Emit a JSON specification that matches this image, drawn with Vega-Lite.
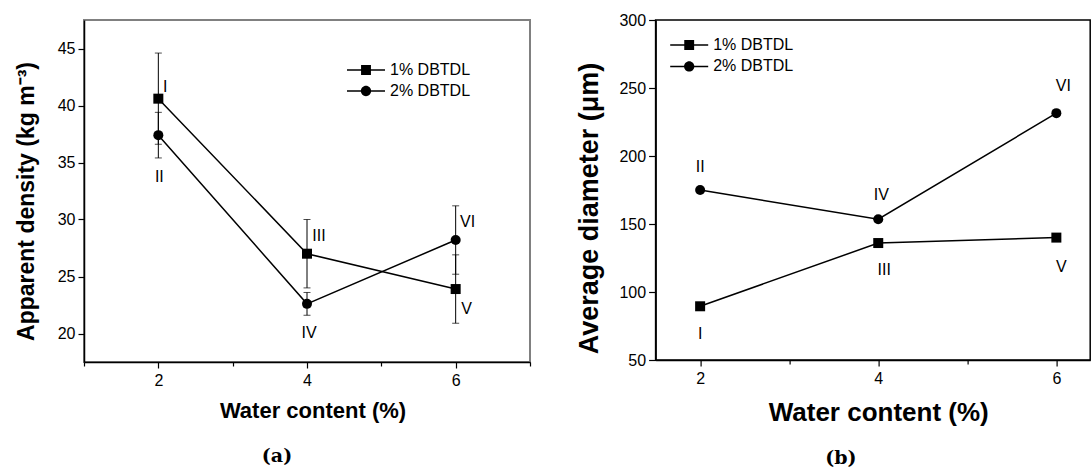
{
  "$schema": "https://vega.github.io/schema/vega-lite/v6.json",
  "padding": {"left": 14, "top": 11, "right": 0, "bottom": 0},
  "background": "white",
  "spacing": 125.6,
  "bounds": "flush",
  "resolve": {"scale": {"color": "independent", "opacity": "independent"}, "legend": {"color": "independent", "opacity": "independent"}},
  "config": {
    "font": "Liberation Sans",
    "axis": {
      "grid": false,
      "domainColor": "black",
      "domainWidth": 1.5,
      "tickColor": "black",
      "tickWidth": 1.2,
      "labelColor": "black",
      "titleColor": "black",
      "labelFont": "Liberation Sans",
      "titleFont": "Liberation Sans",
      "labelFontSize": 16,
      "labelFlush": false,
      "labelOverlap": false,
      "titleFontWeight": "bold",
      "titleBaseline": "middle"
    },
    "legend": {
      "labelFont": "Liberation Sans",
      "labelFontSize": 16,
      "labelColor": "black",
      "padding": 0,
      "labelOffset": 5,
      "rowPadding": 0,
      "symbolSize": 1444,
      "symbolFillColor": "black",
      "symbolStrokeWidth": 0,
      "symbolOpacity": 1
    },
    "title": {"font": "DejaVu Serif", "fontWeight": "bold", "fontSize": 19, "color": "black"}
  },
  "hconcat": [
    {
      "width": 446,
      "height": 342,
      "view": {"stroke": "#808080", "strokeWidth": 2},
      "title": {"text": "(a)", "orient": "bottom", "frame": "group", "anchor": "middle", "dx": -30, "offset": 26},
      "data": {"values": [
        {"w": 2, "s": "1% DBTDL", "v": 40.6, "lo": 36.6, "hi": 44.6, "lab": "I"},
        {"w": 4, "s": "1% DBTDL", "v": 27.0, "lo": 24.0, "hi": 30.0, "lab": "III"},
        {"w": 6, "s": "1% DBTDL", "v": 23.9, "lo": 20.9, "hi": 26.9, "lab": "V"},
        {"w": 2, "s": "2% DBTDL", "v": 37.4, "lo": 35.4, "hi": 39.4, "lab": "II"},
        {"w": 4, "s": "2% DBTDL", "v": 22.6, "lo": 21.6, "hi": 23.6, "lab": "IV"},
        {"w": 6, "s": "2% DBTDL", "v": 28.2, "lo": 25.2, "hi": 31.2, "lab": "VI"}
      ]},
      "layer": [
        {
          "mark": {"type": "rule", "color": "black", "strokeWidth": 1},
          "encoding": {
            "x": {"field": "w", "type": "quantitative", "scale": {"domain": [1, 7], "nice": false, "zero": false},
              "axis": {"title": "Water content (%)", "values": [1, 2, 3, 4, 5, 6, 7], "format": "d",
                "labelExpr": "datum.value % 2 === 0 ? datum.label : ''",
                "tickSize": {"condition": {"test": "datum.value % 2 === 0", "value": 6}, "value": 4},
                "labelPadding": 4, "titleFontSize": 22, "titleX": 228.5, "titleY": 48}},
            "y": {"field": "lo", "type": "quantitative", "scale": {"domain": [17.5, 47.5], "nice": false, "zero": false},
              "axis": {"title": "Apparent density (kg m⁻³)", "values": [20, 22.5, 25, 27.5, 30, 32.5, 35, 37.5, 40, 42.5, 45],
                "labelExpr": "datum.value % 5 === 0 ? datum.label : ''",
                "tickSize": {"condition": {"test": "datum.value % 5 === 0", "value": 6}, "value": 4},
                "labelPadding": 3, "titleFontSize": 23, "titleX": -57.5, "titleY": 181}},
            "y2": {"field": "hi"}
          }
        },
        {
          "mark": {"type": "tick", "orient": "horizontal", "size": 7, "thickness": 1, "color": "black"},
          "encoding": {
            "x": {"field": "w", "type": "quantitative"},
            "y": {"field": "lo", "type": "quantitative"}
          }
        },
        {
          "mark": {"type": "tick", "orient": "horizontal", "size": 7, "thickness": 1, "color": "black"},
          "encoding": {
            "x": {"field": "w", "type": "quantitative"},
            "y": {"field": "hi", "type": "quantitative"}
          }
        },
        {
          "mark": {"type": "line", "color": "black", "strokeWidth": 1.5},
          "encoding": {
            "x": {"field": "w", "type": "quantitative"},
            "y": {"field": "v", "type": "quantitative"},
            "detail": {"field": "s"}
          }
        },
        {
          "transform": [{"filter": "datum.s === '1% DBTDL'"}],
          "mark": {"type": "point", "shape": "square", "filled": true, "size": 100, "opacity": 1},
          "encoding": {
            "x": {"field": "w", "type": "quantitative"},
            "y": {"field": "v", "type": "quantitative"},
            "color": {"field": "s", "type": "nominal",
              "scale": {"domain": ["1% DBTDL"], "range": ["black"]},
              "legend": {"title": null, "orient": "none", "legendX": 263, "legendY": 31,
                "symbolType": "M-1,-0.04H1V0.04H-1ZM-0.26,-0.26H0.26V0.26H-0.26Z"}}
          }
        },
        {
          "transform": [{"filter": "datum.s === '2% DBTDL'"}],
          "mark": {"type": "point", "shape": "circle", "filled": true, "size": 100, "color": "black"},
          "encoding": {
            "x": {"field": "w", "type": "quantitative"},
            "y": {"field": "v", "type": "quantitative"},
            "opacity": {"field": "s", "type": "nominal",
              "scale": {"type": "ordinal", "domain": ["2% DBTDL"], "range": [1]},
              "legend": {"title": null, "orient": "none", "legendX": 263, "legendY": 52,
                "symbolType": "M-1,-0.04H1V0.04H-1ZM0.27,0A0.27,0.27,0,1,1,-0.27,0A0.27,0.27,0,1,1,0.27,0Z"}}
          }
        },
        {
          "transform": [{"filter": "datum.lab === 'I'"}],
          "mark": {"type": "text", "fontSize": 16, "color": "black", "dx": 7, "dy": -12},
          "encoding": {"x": {"field": "w", "type": "quantitative"}, "y": {"field": "v", "type": "quantitative"}, "text": {"field": "lab"}}
        },
        {
          "transform": [{"filter": "datum.lab === 'II'"}],
          "mark": {"type": "text", "fontSize": 16, "color": "black", "dx": 1, "dy": 42},
          "encoding": {"x": {"field": "w", "type": "quantitative"}, "y": {"field": "v", "type": "quantitative"}, "text": {"field": "lab"}}
        },
        {
          "transform": [{"filter": "datum.lab === 'III' || datum.lab === 'VI'"}],
          "mark": {"type": "text", "fontSize": 16, "color": "black", "dx": 12, "dy": -18},
          "encoding": {"x": {"field": "w", "type": "quantitative"}, "y": {"field": "v", "type": "quantitative"}, "text": {"field": "lab"}}
        },
        {
          "transform": [{"filter": "datum.lab === 'IV'"}],
          "mark": {"type": "text", "fontSize": 16, "color": "black", "dx": 2, "dy": 29},
          "encoding": {"x": {"field": "w", "type": "quantitative"}, "y": {"field": "v", "type": "quantitative"}, "text": {"field": "lab"}}
        },
        {
          "transform": [{"filter": "datum.lab === 'V'"}],
          "mark": {"type": "text", "fontSize": 16, "color": "black", "dx": 11, "dy": 20},
          "encoding": {"x": {"field": "w", "type": "quantitative"}, "y": {"field": "v", "type": "quantitative"}, "text": {"field": "lab"}}
        }
      ]
    },
    {
      "width": 434.6,
      "height": 340,
      "view": {"stroke": "black", "strokeWidth": 1.5},
      "title": {"text": "(b)", "orient": "bottom", "frame": "group", "anchor": "middle", "dx": -32, "offset": 24},
      "data": {"values": [
        {"w": 2, "s": "1% DBTDL", "v": 89.5, "lab": "I"},
        {"w": 4, "s": "1% DBTDL", "v": 136.0, "lab": "III"},
        {"w": 6, "s": "1% DBTDL", "v": 140.0, "lab": "V"},
        {"w": 2, "s": "2% DBTDL", "v": 175.0, "lab": "II"},
        {"w": 4, "s": "2% DBTDL", "v": 153.5, "lab": "IV"},
        {"w": 6, "s": "2% DBTDL", "v": 231.5, "lab": "VI"}
      ]},
      "layer": [
        {
          "mark": {"type": "line", "color": "black", "strokeWidth": 1.5},
          "encoding": {
            "x": {"field": "w", "type": "quantitative", "scale": {"domain": [1.5, 6.38], "nice": false, "zero": false},
              "axis": {"title": "Water content (%)", "values": [2, 3, 4, 5, 6], "format": "d",
                "labelExpr": "datum.value % 2 === 0 ? datum.label : ''",
                "tickSize": {"condition": {"test": "datum.value % 2 === 0", "value": 6}, "value": 4},
                "labelPadding": 4, "titleFontSize": 26, "titleX": 222.6, "titleY": 52.4}},
            "y": {"field": "v", "type": "quantitative", "scale": {"domain": [50, 300], "nice": false, "zero": false},
              "axis": {"title": "Average diameter (μm)", "values": [50, 75, 100, 125, 150, 175, 200, 225, 250, 275, 300],
                "labelExpr": "datum.value % 50 === 0 ? datum.label : ''",
                "tickSize": {"condition": {"test": "datum.value % 50 === 0", "value": 7}, "value": 4},
                "labelPadding": 3, "titleFontSize": 27, "titleX": -66, "titleY": 188}},
            "detail": {"field": "s"}
          }
        },
        {
          "transform": [{"filter": "datum.s === '1% DBTDL'"}],
          "mark": {"type": "point", "shape": "square", "filled": true, "size": 100, "opacity": 1},
          "encoding": {
            "x": {"field": "w", "type": "quantitative"},
            "y": {"field": "v", "type": "quantitative"},
            "color": {"field": "s", "type": "nominal",
              "scale": {"domain": ["1% DBTDL"], "range": ["black"]},
              "legend": {"title": null, "orient": "none", "legendX": 14.6, "legendY": 6,
                "symbolType": "M-1,-0.04H1V0.04H-1ZM-0.26,-0.26H0.26V0.26H-0.26Z"}}
          }
        },
        {
          "transform": [{"filter": "datum.s === '2% DBTDL'"}],
          "mark": {"type": "point", "shape": "circle", "filled": true, "size": 100, "color": "black"},
          "encoding": {
            "x": {"field": "w", "type": "quantitative"},
            "y": {"field": "v", "type": "quantitative"},
            "opacity": {"field": "s", "type": "nominal",
              "scale": {"type": "ordinal", "domain": ["2% DBTDL"], "range": [1]},
              "legend": {"title": null, "orient": "none", "legendX": 14.6, "legendY": 27.4,
                "symbolType": "M-1,-0.04H1V0.04H-1ZM0.27,0A0.27,0.27,0,1,1,-0.27,0A0.27,0.27,0,1,1,0.27,0Z"}}
          }
        },
        {
          "transform": [{"filter": "datum.lab === 'I'"}],
          "mark": {"type": "text", "fontSize": 16, "color": "black", "dx": 0, "dy": 28},
          "encoding": {"x": {"field": "w", "type": "quantitative"}, "y": {"field": "v", "type": "quantitative"}, "text": {"field": "lab"}}
        },
        {
          "transform": [{"filter": "datum.lab === 'II'"}],
          "mark": {"type": "text", "fontSize": 16, "color": "black", "dx": 0, "dy": -23},
          "encoding": {"x": {"field": "w", "type": "quantitative"}, "y": {"field": "v", "type": "quantitative"}, "text": {"field": "lab"}}
        },
        {
          "transform": [{"filter": "datum.lab === 'III'"}],
          "mark": {"type": "text", "fontSize": 16, "color": "black", "dx": 6, "dy": 27},
          "encoding": {"x": {"field": "w", "type": "quantitative"}, "y": {"field": "v", "type": "quantitative"}, "text": {"field": "lab"}}
        },
        {
          "transform": [{"filter": "datum.lab === 'IV'"}],
          "mark": {"type": "text", "fontSize": 16, "color": "black", "dx": 3, "dy": -24},
          "encoding": {"x": {"field": "w", "type": "quantitative"}, "y": {"field": "v", "type": "quantitative"}, "text": {"field": "lab"}}
        },
        {
          "transform": [{"filter": "datum.lab === 'V'"}],
          "mark": {"type": "text", "fontSize": 16, "color": "black", "dx": 5, "dy": 29},
          "encoding": {"x": {"field": "w", "type": "quantitative"}, "y": {"field": "v", "type": "quantitative"}, "text": {"field": "lab"}}
        },
        {
          "transform": [{"filter": "datum.lab === 'VI'"}],
          "mark": {"type": "text", "fontSize": 16, "color": "black", "dx": 7, "dy": -27},
          "encoding": {"x": {"field": "w", "type": "quantitative"}, "y": {"field": "v", "type": "quantitative"}, "text": {"field": "lab"}}
        }
      ]
    }
  ]
}
